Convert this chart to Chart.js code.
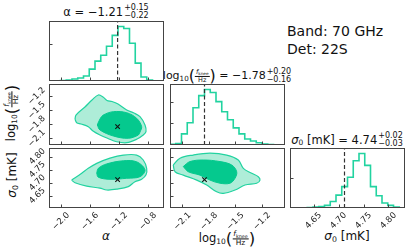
<!DOCTYPE html>
<html>
<head>
<meta charset="utf-8">
<script src="https://cdn.jsdelivr.net/npm/chart.js@4.4.1/dist/chart.umd.min.js"></script>
<style>
  body { margin: 0; width: 411px; height: 251px; overflow: hidden; background: #fff;
         font-family: "DejaVu Sans", sans-serif; color: #111; }
  #wrap { position: relative; width: 411px; height: 251px; }
  #wrap canvas { position: absolute; left: 0; top: 0; }
  .t { position: absolute; white-space: nowrap; line-height: 1; transform: translate(-50%, -50%); }
  .rot { transform: translate(-50%, -50%) rotate(-90deg); }
  .ud { display: inline-flex; flex-direction: column; font-size: 8px; line-height: 8px;
        vertical-align: middle; margin-left: 1px; }
  .frac { display: inline-flex; flex-direction: column; align-items: center; font-size: 7.5px;
          line-height: 7.5px; vertical-align: middle; }
  .frac > span:first-child { border-bottom: 0.8px solid #111; padding: 0 1px; }
  .tt .frac { font-size: 6.5px; line-height: 6.5px; }
  .par { font-size: 1.45em; vertical-align: -0.12em; }
  sub { font-size: 0.65em; vertical-align: -0.25em; line-height: 0; }
  .band { position: absolute; left: 287px; font-size: 14px; line-height: 1; }
</style>
</head>
<body>
<div id="wrap">
  <div class="t" style="left:106px;top:12px;font-size:11.5px">α = −1.21<span class="ud"><span>+0.15</span><span>−0.22</span></span></div>
  <div class="t tt" style="left:227px;top:76px;font-size:11px">log<sub>10</sub><span class="par">(</span><span class="frac"><span><i>f</i><sub>knee</sub></span><span>Hz</span></span><span class="par">)</span> = −1.78<span class="ud"><span>+0.20</span><span>−0.16</span></span></div>
  <div class="t" style="left:347px;top:140px;font-size:11.5px"><i>σ</i><sub>0</sub> [mK] = 4.74<span class="ud"><span>+0.02</span><span>−0.03</span></span></div>

  <div class="band" style="top:24px">Band: 70 GHz</div>
  <div class="band" style="top:42px">Det: 22S</div>

  <div class="t" style="left:106px;top:236px;font-size:12px"><i>α</i></div>
  <div class="t" style="left:227px;top:239px;font-size:11.5px">log<sub>10</sub><span class="par">(</span><span class="frac"><span><i>f</i><sub>knee</sub></span><span>Hz</span></span><span class="par">)</span></div>
  <div class="t" style="left:347px;top:236px;font-size:12px"><i>σ</i><sub>0</sub> [mK]</div>

  <div class="t rot" style="left:12px;top:113px;font-size:11.5px">log<sub>10</sub><span class="par">(</span><span class="frac"><span><i>f</i><sub>knee</sub></span><span>Hz</span></span><span class="par">)</span></div>
  <div class="t rot" style="left:12px;top:175px;font-size:12px"><i>σ</i><sub>0</sub> [mK]</div>
</div>
<script>
// parameter ranges and ticks
const alphaRange = [-2.166, -0.58];
const logfRange = [-2.24, -0.94];
const sigmaRange = [4.603, 4.833];
const alphaTicks = [-2.0, -1.6, -1.2, -0.8];
const logfTicks = [-2.1, -1.8, -1.5, -1.2];
const sigmaTicks = [4.65, 4.70, 4.75, 4.80];
const truths = [-1.22, -1.85, 4.712];

// 1d histograms (20 bins over the axis range)
const histMax = 60.5;
const alphaCounts = [0, 0.2, 0.5, 1, 2, 3, 5, 12, 20, 26, 35, 46, 55, 53, 38, 18, 4, 1, 0.3, 0];
const logfCounts = [0.8, 1.5, 11, 22, 37, 49, 55, 52, 43, 33, 25, 17, 11, 6, 4, 2.3, 1, 0.5, 0.2, 0];
const sigmaCounts = [0, 0, 0.2, 0.5, 1, 1.5, 2.6, 6.6, 13, 21.6, 31, 47.6, 55, 43, 21.6, 12.3, 5, 2.6, 1, 0.3];
const alphaHistTicks = [37];
const logfHistTicks = [22, 43];
const sigmaHistTicks = [30];

// 2d contours (outer / inner levels)
const alphaLogfOuter = [[-1.807, -1.692], [-1.794, -1.601], [-1.670, -1.430], [-1.573, -1.281], [-1.486, -1.174],
  [-1.421, -1.217], [-1.366, -1.292], [-1.297, -1.313], [-1.214, -1.366], [-1.094, -1.494], [-0.994, -1.558],
  [-0.911, -1.637], [-0.842, -1.814], [-0.828, -1.957], [-0.866, -2.027], [-0.957, -2.118], [-1.094, -2.191],
  [-1.232, -2.170], [-1.352, -2.101], [-1.463, -2.027], [-1.559, -1.942], [-1.624, -1.850], [-1.725, -1.792],
  [-1.784, -1.765], [-1.807, -1.692]];
const alphaLogfInner = [[-1.500, -1.814], [-1.463, -1.686], [-1.417, -1.601], [-1.279, -1.530], [-1.094, -1.552],
  [-0.957, -1.671], [-0.888, -1.850], [-0.911, -1.963], [-0.934, -2.027], [-1.072, -2.097], [-1.279, -2.048],
  [-1.463, -1.920], [-1.500, -1.814]];
const alphaSigmaOuter = [[-1.853, 4.710], [-1.715, 4.736], [-1.624, 4.755], [-1.508, 4.774], [-1.325, 4.794],
  [-1.141, 4.806], [-0.957, 4.806], [-0.866, 4.787], [-0.819, 4.755], [-0.828, 4.730], [-0.888, 4.713],
  [-0.980, 4.704], [-1.072, 4.685], [-1.232, 4.675], [-1.370, 4.672], [-1.463, 4.679], [-1.646, 4.687],
  [-1.807, 4.700], [-1.853, 4.710]];
const alphaSigmaInner = [[-1.508, 4.736], [-1.486, 4.755], [-1.370, 4.772], [-1.141, 4.784], [-0.957, 4.780],
  [-0.842, 4.749], [-0.911, 4.723], [-1.094, 4.717], [-1.325, 4.713], [-1.486, 4.721], [-1.508, 4.736]];
const logfSigmaOuter = [[-2.203, 4.768], [-2.127, 4.794], [-1.977, 4.806], [-1.788, 4.813], [-1.599, 4.806],
  [-1.468, 4.787], [-1.411, 4.755], [-1.316, 4.736], [-1.242, 4.723], [-1.223, 4.710], [-1.260, 4.698],
  [-1.392, 4.691], [-1.505, 4.672], [-1.637, 4.659], [-1.712, 4.665], [-1.825, 4.691], [-1.938, 4.710],
  [-2.090, 4.729], [-2.183, 4.742], [-2.203, 4.768]];
const logfSigmaInner = [[-2.090, 4.762], [-2.014, 4.781], [-1.864, 4.787], [-1.675, 4.781], [-1.543, 4.768],
  [-1.486, 4.742], [-1.505, 4.717], [-1.562, 4.698], [-1.675, 4.698], [-1.788, 4.710], [-1.901, 4.729],
  [-2.033, 4.742], [-2.090, 4.762]];

const lineColor = "#22d3a0";
const darkFill = "#05c98e";
const lightFill = "#aeedd8";

const cols = [[49, 164], [170, 285], [290, 405]];
const rows = [[21, 81], [84, 145], [148, 208]];

const fmt1 = (v) => v.toFixed(1).replace("-", "\u2212");
const fmt2 = (v) => v.toFixed(2).replace("-", "\u2212");

// frame, inward tick marks and 45-degree tick labels (matplotlib-like)
function framePlugin(fmtX, fmtY) {
  return {
    id: "frame",
    afterDraw(chart) {
      const { ctx, chartArea: a, scales } = chart;
      ctx.save();
      ctx.strokeStyle = "#444";
      ctx.lineWidth = 1;
      ctx.beginPath();
      scales.x.ticks.forEach((t) => {
        const p = Math.round(scales.x.getPixelForValue(t.value)) + 0.5;
        ctx.moveTo(p, a.bottom);
        ctx.lineTo(p, a.bottom - 3.5);
      });
      scales.y.ticks.forEach((t) => {
        const p = Math.round(scales.y.getPixelForValue(t.value)) + 0.5;
        ctx.moveTo(a.left, p);
        ctx.lineTo(a.left + 3.5, p);
      });
      ctx.stroke();
      ctx.strokeRect(a.left + 0.5, a.top + 0.5, a.width - 1, a.height - 1);

      ctx.font = "8.5px 'DejaVu Sans'";
      ctx.fillStyle = "#222";
      ctx.textAlign = "center";
      ctx.textBaseline = "middle";
      const half = (label) => (ctx.measureText(label).width + 7) * Math.SQRT1_2 / 2;
      if (fmtX) {
        scales.x.ticks.forEach((t) => {
          const label = fmtX(t.value);
          ctx.save();
          ctx.translate(scales.x.getPixelForValue(t.value), a.bottom + 3.5 + half(label));
          ctx.rotate(-Math.PI / 4);
          ctx.fillText(label, 0, 0);
          ctx.restore();
        });
      }
      if (fmtY) {
        scales.y.ticks.forEach((t) => {
          const label = fmtY(t.value);
          ctx.save();
          ctx.translate(a.left - 2.5 - half(label), scales.y.getPixelForValue(t.value));
          ctx.rotate(-Math.PI / 4);
          ctx.fillText(label, 0, 0);
          ctx.restore();
        });
      }
      ctx.restore();
    },
  };
}

function axis(range, ticks) {
  return {
    type: "linear",
    min: range[0],
    max: range[1],
    grid: { display: false },
    border: { display: false },
    ticks: { display: false },
    afterBuildTicks: (s) => {
      s.ticks = ticks.map((v) => ({ value: v }));
    },
    afterFit: (s) => {
      if (s.isHorizontal()) s.height = 0;
      else s.width = 0;
      s.paddingLeft = s.paddingRight = s.paddingTop = s.paddingBottom = 0;
    },
  };
}

function makePanel(col, row, x, y, datasets, fmtX, fmtY) {
  const cv = document.createElement("canvas");
  cv.width = 411;
  cv.height = 251;
  document.getElementById("wrap").appendChild(cv);
  new Chart(cv, {
    type: "line",
    data: { datasets },
    options: {
      responsive: false,
      animation: false,
      events: [],
      layout: {
        padding: { left: cols[col][0], right: 411 - cols[col][1], top: rows[row][0], bottom: 251 - rows[row][1] },
      },
      plugins: { legend: { display: false }, tooltip: { enabled: false } },
      elements: { point: { radius: 0 } },
      scales: { x, y },
    },
    plugins: [framePlugin(fmtX, fmtY)],
  });
}

function histSets(counts, range, truth) {
  const w = (range[1] - range[0]) / counts.length;
  const pts = counts.map((c, i) => ({ x: range[0] + i * w, y: c }));
  pts.push({ x: range[1], y: counts[counts.length - 1] });
  return [
    { data: pts, stepped: true, borderColor: lineColor, borderWidth: 1.6, fill: false, order: 2 },
    { data: [{ x: truth, y: 0 }, { x: truth, y: histMax }], borderColor: "#333", borderWidth: 1.2,
      borderDash: [4, 2.5], order: 1 },
  ];
}

function contourSets(outer, inner, tx, ty) {
  const pts = (arr) => arr.map((p) => ({ x: p[0], y: p[1] }));
  return [
    { data: pts(outer), fill: "shape", backgroundColor: lightFill, borderColor: lineColor, borderWidth: 1.2,
      tension: 0.35, order: 3 },
    { data: pts(inner), fill: "shape", backgroundColor: darkFill, borderColor: darkFill, borderWidth: 1,
      tension: 0.35, order: 2 },
    { data: [{ x: tx, y: ty }], showLine: false, pointRadius: 3.2, pointStyle: "crossRot", borderColor: "#111",
      borderWidth: 1.1, order: 1 },
  ];
}

const histRange = [0, histMax];

makePanel(0, 0, axis(alphaRange, alphaTicks), axis(histRange, alphaHistTicks),
  histSets(alphaCounts, alphaRange, truths[0]), null, null);
makePanel(0, 1, axis(alphaRange, alphaTicks), axis(logfRange, logfTicks),
  contourSets(alphaLogfOuter, alphaLogfInner, truths[0], truths[1]), null, fmt1);
makePanel(0, 2, axis(alphaRange, alphaTicks), axis(sigmaRange, sigmaTicks),
  contourSets(alphaSigmaOuter, alphaSigmaInner, truths[0], truths[2]), fmt1, fmt2);
makePanel(1, 1, axis(logfRange, logfTicks), axis(histRange, logfHistTicks),
  histSets(logfCounts, logfRange, truths[1]), null, null);
makePanel(1, 2, axis(logfRange, logfTicks), axis(sigmaRange, sigmaTicks),
  contourSets(logfSigmaOuter, logfSigmaInner, truths[1], truths[2]), fmt1, null);
makePanel(2, 2, axis(sigmaRange, sigmaTicks), axis(histRange, sigmaHistTicks),
  histSets(sigmaCounts, sigmaRange, truths[2]), fmt2, null);
</script>
</body>
</html>
